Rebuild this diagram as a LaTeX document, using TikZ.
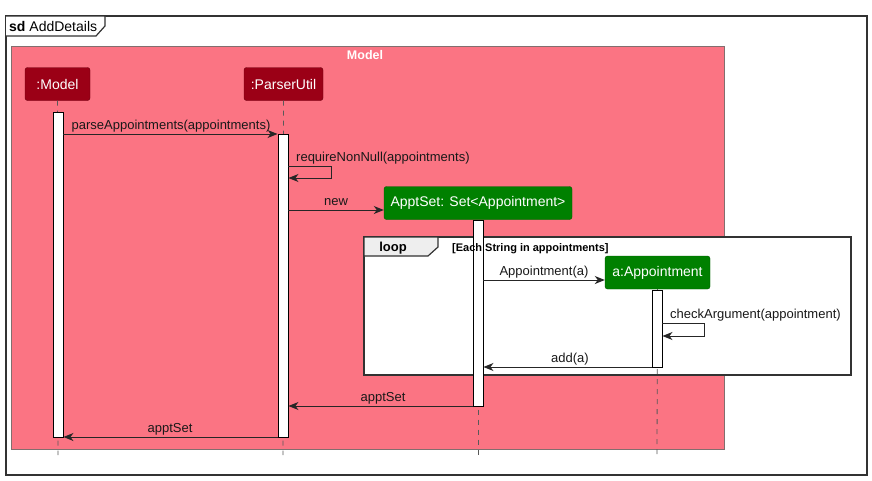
\documentclass[tikz,border=0pt]{standalone}
\usepackage{fontspec}
\setmainfont{Liberation Sans}
\usetikzlibrary{arrows.meta}
\definecolor{modelbg}{RGB}{251,116,131}
\definecolor{modelborder}{RGB}{130,110,110}
\definecolor{partred}{RGB}{155,0,22}
\definecolor{partgreen}{RGB}{0,128,0}
\definecolor{framec}{RGB}{50,50,50}
\definecolor{tabc}{RGB}{238,238,238}
\tikzset{
  partbox/.style={rectangle, rounded corners=2.5pt, draw=#1!70!black, fill=#1, text=white,
    inner sep=0pt, minimum height=33pt, font=\fontsize{14}{16}\selectfont},
  actbar/.style={rectangle, draw=black, fill=white, line width=0.9pt, minimum width=10pt, inner sep=0pt},
  lifeline/.style={draw=gray!70!black, dash pattern=on 5pt off 5pt, line width=0.8pt},
  msg/.style={draw=black!85, line width=1pt, -{Stealth[length=10pt,width=8pt,inset=3pt]}},
  lbl/.style={font=\fontsize{13}{15}\selectfont, inner sep=0pt, text=black!90},
}
\begin{document}
\begin{tikzpicture}[x=1pt,y=-1pt]
\useasboundingbox (0,0) rectangle (872,480);
% outer frame
\draw[framec, line width=1.4pt] (6,16) rectangle (867,475);
\draw[framec, line width=1.2pt, fill=white] (6,16) -- (105,16) -- (105,26) -- (96,36) -- (6,36);
\node[anchor=base west, inner sep=0pt, font=\fontsize{14}{16}\selectfont] (sdlbl) at (9,31) {\textbf{sd} AddDetails};
% Model box
\draw[modelborder, fill=modelbg, line width=0.8pt] (11,46) rectangle (724,449);
\node[font=\bfseries\fontsize{12.5}{14}\selectfont, text=white, inner sep=0pt] (modeltitle) at (365,55) {Model};
% loop frame (white background)
\fill[white] (364,237) rectangle (851,375);
% participants
\node[partbox=partred, minimum width=65pt] (pM) at (57.5,84) {:Model};
\node[partbox=partred, minimum width=79pt] (pP) at (283.5,84) {:ParserUtil};
\node[partbox=partgreen, minimum width=188pt] (pS) at (478,203) {ApptSet: Set<Appointment>};
\node[partbox=partgreen, minimum width=105pt] (pA) at (657.5,272.5) {a:Appointment};
% lifeline ends
\coordinate (eM) at (58,455);
\coordinate (eP) at (283,455);
\coordinate (eS) at (478,455);
\coordinate (eA) at (657,455);
\draw[lifeline] (pM.south) -- (eM);
\draw[lifeline] (pP.south) -- (eP);
\draw[lifeline] (pS.south) -- (eS);
\draw[lifeline] (pA.south) -- (eA);
% loop frame border and tab
\draw[framec, line width=1.4pt] (364,237) rectangle (851,375);
\draw[framec, line width=1.2pt, fill=tabc] (364,237) -- (438,237) -- (438,247) -- (428,256) -- (364,256) -- cycle;
\node[font=\bfseries\fontsize{13}{15}\selectfont, inner sep=0pt] (looplbl) at (393,248) {loop};
% activation bars
\node[actbar, minimum height=325pt] (aM) at (58,274.5) {};
\node[actbar, minimum height=303pt] (aP) at (283,285.5) {};
\node[actbar, minimum height=186pt] (aS) at (478,313) {};
\node[actbar, minimum height=77pt] (aA) at (657,328.5) {};
\node[font=\bfseries\fontsize{11}{13}\selectfont, inner sep=0pt, anchor=base west] (guard) at (452,251) {[Each String in appointments]};
% y levels
\coordinate (y134) at (0,134);
\coordinate (y166) at (0,166);
\coordinate (y178) at (0,178);
\coordinate (y210) at (0,210);
\coordinate (y280) at (0,280);
\coordinate (y323) at (0,323);
\coordinate (y336) at (0,336);
\coordinate (y367) at (0,367);
\coordinate (y406) at (0,406);
\coordinate (y437) at (0,437);
% messages
\draw[msg] (aM.east |- y134) -- (aP.west |- y134);
\node[lbl, anchor=base] (l1) at (171,129) {parseAppointments(appointments)};
\draw[msg] (aP.east |- y166) -- ++(43,0) -- ++(0,12) -- (aP.east |- y178);
\node[lbl, anchor=base west] (l2) at (296,161) {requireNonNull(appointments)};
\draw[msg] (aP.east |- y210) -- (pS.west |- y210);
\node[lbl, anchor=base] (l3) at (336,205) {new};
\draw[msg] (aS.east |- y280) -- (pA.west |- y280);
\node[lbl, anchor=base] (l4) at (544,275) {Appointment(a)};
\draw[msg] (aA.east |- y323) -- ++(42,0) -- ++(0,13) -- (aA.east |- y336);
\node[lbl, anchor=base west] (l5) at (670,318) {checkArgument(appointment)};
\draw[msg] (aA.west |- y367) -- (aS.east |- y367);
\node[lbl, anchor=base] (l6) at (570,362) {add(a)};
\draw[msg] (aS.west |- y406) -- (aP.east |- y406);
\node[lbl, anchor=base] (l7) at (383,401) {apptSet};
\draw[msg] (aP.west |- y437) -- (aM.east |- y437);
\node[lbl, anchor=base] (l8) at (170,432) {apptSet};
\end{tikzpicture}
\end{document}
